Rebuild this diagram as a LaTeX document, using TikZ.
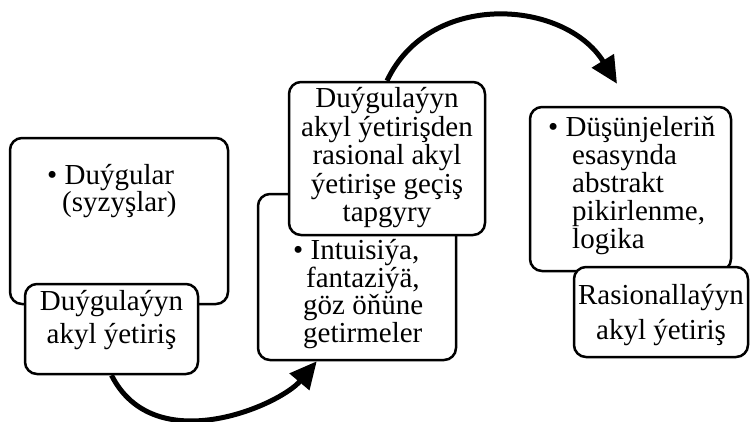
\documentclass[tikz,border=0pt]{standalone}
\usepackage{fontspec}
\setmainfont{Liberation Serif}
\usetikzlibrary{arrows.meta,calc}
\begin{document}
\begin{tikzpicture}[x=1pt,y=-1pt,
  box/.style={draw, line width=2.5pt, rounded corners=12pt, fill=white, inner sep=0pt},
  txt/.style={font=\fontsize{29}{28.5}\selectfont, inner sep=0pt},
  flow/.style={line width=5pt, -{Triangle[length=27pt,width=25pt]}}]
\useasboundingbox (0,0) rectangle (755,421);

% Stage 1
\node[box, minimum width=218pt, minimum height=166pt] (boxA) at (119,221) {};
\node[box, minimum width=173pt, minimum height=90pt] (labA) at (111.5,329) {};
\node[txt, align=left, anchor=west, font=\fontsize{29}{27}\selectfont] (txtA) at (47,191) {• Duýgular\\\hspace*{15pt}(syzyşlar)};
\node[txt, align=center, font=\fontsize{29}{33}\selectfont] (tlabA) at (111.5,320) {Duýgulaýyn\\akyl ýetiriş};

% Stage 2
\node[box, minimum width=198pt, minimum height=166pt] (boxB) at (357,277) {};
\node[box, minimum width=196pt, minimum height=153pt] (labB) at (387,158.5) {};
\node[txt, align=left, anchor=west, font=\fontsize{29}{22.7}\selectfont] (txtB) at (293,294) {• Intuisiýa,\\\hspace*{13pt}fantaziýä,\\\hspace*{10pt}göz öňüne\\\hspace*{10pt}getirmeler};
\node[txt, align=center, font=\fontsize{29}{28.5}\selectfont] (tlabB) at (387,158) {Duýgulaýyn\\akyl ýetirişden\\rasional akyl\\ýetirişe geçiş\\tapgyry};

% Stage 3
\node[box, minimum width=201pt, minimum height=164pt] (boxC) at (630.5,189) {};
\node[box, minimum width=174pt, minimum height=90pt] (labC) at (661,312) {};
\node[txt, align=left, anchor=west, font=\fontsize{29}{27.8}\selectfont] (txtC) at (548,185.5) {• Düşünjeleriň\\\hspace*{24pt}esasynda\\\hspace*{24pt}abstrakt\\\hspace*{24pt}pikirlenme,\\\hspace*{24pt}logika};
\node[txt, align=center, font=\fontsize{29}{35}\selectfont] (tlabC) at (661,315.5) {Rasionallaýyn\\akyl ýetiriş};

% Arrows
\draw[flow] (labA.south) .. controls +(43,85) and +(-37,44) .. ([xshift=60pt]boxB.south west);
\draw[flow] (labB.north) .. controls +(43,-91) and +(-52,-84) .. ([xshift=-13.5pt,yshift=22pt]boxC.north);
\end{tikzpicture}
\end{document}
